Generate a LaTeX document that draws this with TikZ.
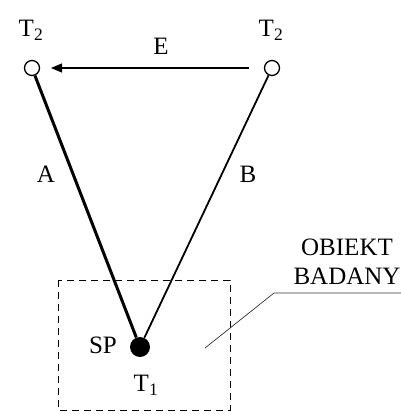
\documentclass[tikz,border=0pt]{standalone}
\usepackage{fontspec}
\setmainfont{Liberation Serif}
\usetikzlibrary{arrows.meta}
\begin{document}
\begin{tikzpicture}[x=1pt,y=-1pt,
  lbl/.style={font=\fontsize{25}{28}\selectfont, inner sep=0pt},
  opencirc/.style={circle, draw, line width=1.3pt, fill=white, minimum size=15pt, inner sep=0pt},
  dotc/.style={circle, fill=black, minimum size=20pt, inner sep=0pt}]
\useasboundingbox (0,0) rectangle (401,412);
\node[opencirc] (L) at (32,68) {};
\node[opencirc] (R) at (272,68) {};
\node[dotc] (P) at (140,347) {};
\node[lbl] (t2l) at (31,30) {T\textsubscript{2}};
\node[lbl] (t2r) at (271,30) {T\textsubscript{2}};
\node[lbl] (e) at (161,46) {E};
\node[lbl] (a) at (46,174) {A};
\node[lbl] (b) at (248,174) {B};
\node[lbl] (sp) at (103,345) {SP};
\node[lbl] (t1) at (146,385) {T\textsubscript{1}};
\node[lbl] (ob) at (347,247) {OBIEKT};
\node[lbl] (bad) at (347,276) {BADANY};
\draw[line width=1pt, -{Triangle[length=11pt,width=9pt]}] (249,68) -- (51,68);
\draw[line width=3pt] (L) -- (P);
\draw[line width=1.8pt] (R) -- (P);
\draw[line width=1pt, dash pattern=on 7pt off 5pt] (58,280) rectangle (230,410);
\coordinate (k1) at (205,348);
\coordinate (k2) at (274,293);
\coordinate (k3) at (401,293);
\draw[line width=0.7pt, black!80] (k1) -- (k2) -- (k3);
\end{tikzpicture}
\end{document}
